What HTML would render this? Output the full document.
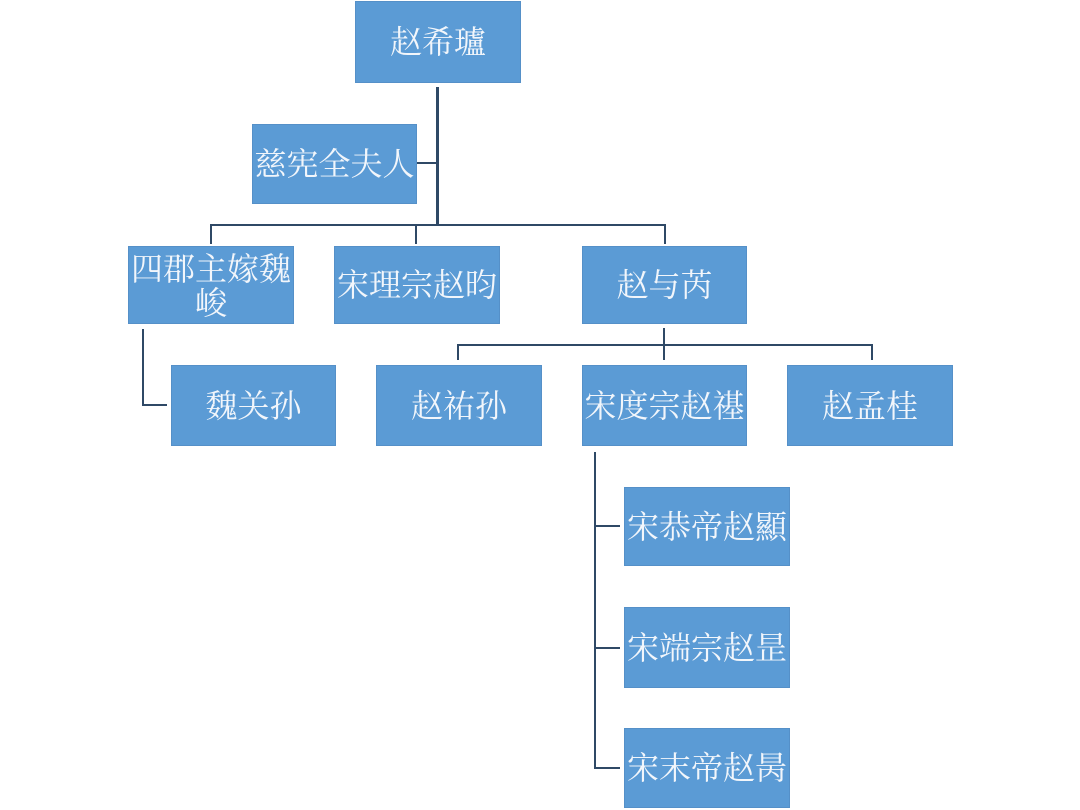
<!DOCTYPE html>
<html><head><meta charset="utf-8"><style>
html,body{margin:0;padding:0;background:#fff;}
body{width:1080px;height:810px;position:relative;overflow:hidden;font-family:"Liberation Serif","Noto Serif CJK SC",serif;}
.b{position:absolute;background:#5b9bd5;border:1px solid #5590c8;box-sizing:border-box;color:#f2f6fb;font-size:32px;display:flex;align-items:center;justify-content:center;text-align:center;line-height:36px;letter-spacing:0px;white-space:nowrap;}
.l{position:absolute;background:#2f4966;}
</style></head><body>
<!-- lines -->
<div class="l" style="left:436px;top:87px;width:3px;height:139px;"></div>
<div class="l" style="left:417px;top:162px;width:20px;height:2px;"></div>
<div class="l" style="left:210px;top:224px;width:456px;height:2px;"></div>
<div class="l" style="left:210px;top:224px;width:2px;height:20px;"></div>
<div class="l" style="left:415px;top:224px;width:2px;height:20px;"></div>
<div class="l" style="left:664px;top:224px;width:2px;height:20px;"></div>
<div class="l" style="left:142px;top:329px;width:2px;height:77px;"></div>
<div class="l" style="left:142px;top:404px;width:25px;height:2px;"></div>
<div class="l" style="left:663px;top:328px;width:2px;height:32px;"></div>
<div class="l" style="left:457px;top:344px;width:416px;height:2px;"></div>
<div class="l" style="left:457px;top:344px;width:2px;height:16px;"></div>
<div class="l" style="left:871px;top:344px;width:2px;height:16px;"></div>
<div class="l" style="left:594px;top:452px;width:2px;height:317px;"></div>
<div class="l" style="left:594px;top:525px;width:26px;height:2px;"></div>
<div class="l" style="left:594px;top:647px;width:26px;height:2px;"></div>
<div class="l" style="left:594px;top:767px;width:26px;height:2px;"></div>
<!-- boxes -->
<div class="b" style="left:355px;top:1px;width:166px;height:82px;">赵希瓐</div>
<div class="b" style="left:252px;top:124px;width:165px;height:80px;">慈宪全夫人</div>
<div class="b" style="left:128px;top:246px;width:166px;height:78px;line-height:34px;padding-top:2px;">四郡主嫁魏<br>峻</div>
<div class="b" style="left:334px;top:246px;width:166px;height:78px;">宋理宗赵昀</div>
<div class="b" style="left:582px;top:246px;width:165px;height:78px;">赵与芮</div>
<div class="b" style="left:171px;top:365px;width:165px;height:81px;">魏关孙</div>
<div class="b" style="left:376px;top:365px;width:166px;height:81px;">赵祐孙</div>
<div class="b" style="left:582px;top:365px;width:165px;height:81px;">宋度宗赵禥</div>
<div class="b" style="left:787px;top:365px;width:166px;height:81px;">赵孟桂</div>
<div class="b" style="left:624px;top:487px;width:166px;height:79px;">宋恭帝赵顯</div>
<div class="b" style="left:624px;top:607px;width:166px;height:81px;">宋端宗赵昰</div>
<div class="b" style="left:624px;top:728px;width:166px;height:80px;">宋末帝赵昺</div>
</body></html>
